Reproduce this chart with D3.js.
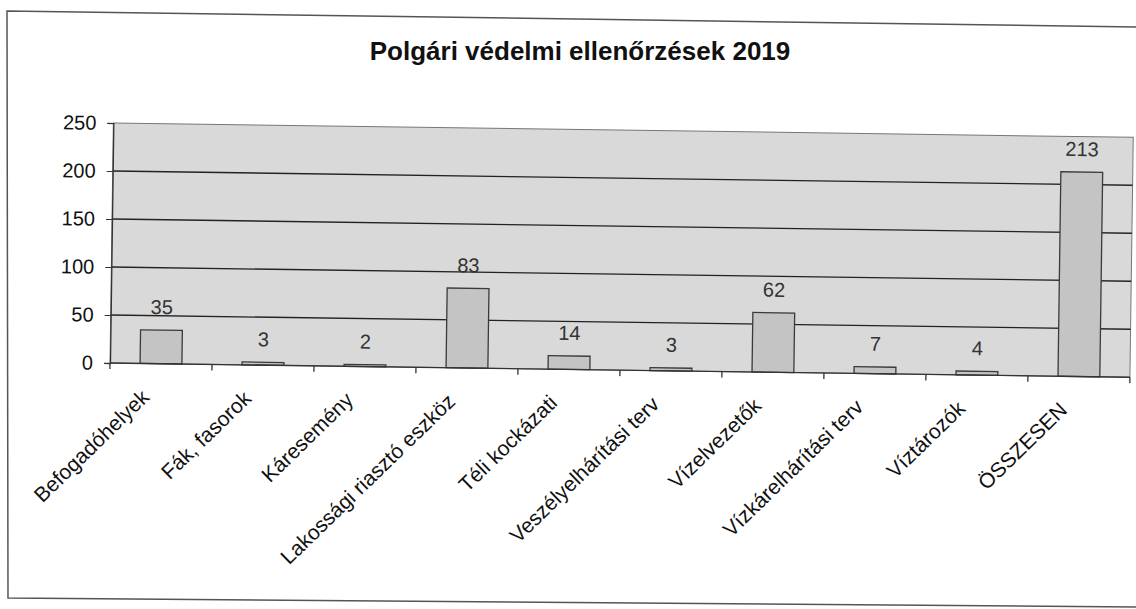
<!DOCTYPE html>
<html>
<head>
<meta charset="utf-8">
<script src="https://cdn.jsdelivr.net/npm/d3@7"></script>
<style>
  body { margin: 0; background: #fff; }
  text { font-family: "Liberation Sans", Arial, sans-serif; }
</style>
</head>
<body>
<div id="chart"></div>
<script>
// data
var categories = ["Befogadóhelyek", "Fák, fasorok", "Káresemény", "Lakossági riasztó eszköz",
  "Téli kockázati", "Veszélyelhárítási terv", "Vízelvezetők", "Vízkárelhárítási terv",
  "Víztározók", "ÖSSZESEN"];
var values = [35, 3, 2, 83, 14, 3, 62, 7, 4, 213];
var yTicks = [0, 50, 100, 150, 200, 250];
var title = "Polgári védelmi ellenőrzések 2019";

var W = 1136, H = 609;
var plotL = 110, plotR = 1130, plotT = 123, plotB = 363;

var svg = d3.select("#chart")
  .append("svg")
    .attr("width", W)
    .attr("height", H);

// page frame (scan is a bit skewed)
svg.append("path")
  .attr("d", "M1140,27 L7,11 L8,598 L1140,607")
  .attr("fill", "none")
  .attr("stroke", "#555")
  .attr("stroke-width", 1.5);

// the scan is tilted slightly clockwise
var g = svg.append("g")
  .attr("transform", "rotate(0.8," + plotL + "," + plotB + ")");

var x = d3.scaleBand()
  .domain(categories)
  .range([plotL, plotR])
  .paddingInner(0.59)
  .paddingOuter(0.295);

var y = d3.scaleLinear()
  .domain([0, 250])
  .range([plotB, plotT]);

// plot area
g.append("rect")
  .attr("x", plotL)
  .attr("y", plotT)
  .attr("width", plotR - plotL)
  .attr("height", plotB - plotT)
  .attr("fill", "#d9d9d9")
  .attr("stroke", "#777")
  .attr("stroke-width", 1);

// gridlines
g.selectAll(".grid")
  .data(yTicks.filter(function(d) { return d > 0 && d < 250; }))
  .enter().append("line")
    .attr("x1", plotL)
    .attr("x2", plotR)
    .attr("y1", function(d) { return y(d); })
    .attr("y2", function(d) { return y(d); })
    .attr("stroke", "#222")
    .attr("stroke-width", 1.3);

// y axis
var yAxis = g.append("g")
  .attr("transform", "translate(" + plotL + ",0)")
  .call(d3.axisLeft(y).tickValues(yTicks).tickSize(6).tickPadding(11));
yAxis.select(".domain").attr("stroke", "#333").attr("stroke-width", 1.3);
yAxis.selectAll(".tick line").attr("stroke", "#333");
yAxis.selectAll("text")
  .attr("font-size", 20)
  .attr("fill", "#111")
  .style("font-family", "Liberation Sans, Arial, sans-serif");

// bars
g.selectAll(".bar")
  .data(values)
  .enter().append("rect")
    .attr("x", function(d, i) { return x(categories[i]); })
    .attr("y", function(d) { return y(d); })
    .attr("width", x.bandwidth())
    .attr("height", function(d) { return y(0) - y(d); })
    .attr("fill", "#c4c4c4")
    .attr("stroke", "#3a3a3a")
    .attr("stroke-width", 1.3);

// value labels
g.selectAll(".val")
  .data(values)
  .enter().append("text")
    .attr("x", function(d, i) { return x(categories[i]) + x.bandwidth() / 2; })
    .attr("y", function(d) { return y(d) - 16; })
    .attr("text-anchor", "middle")
    .attr("font-size", 20)
    .attr("fill", "#333")
    .text(function(d) { return d; });

// x axis line and ticks at category boundaries
g.append("line")
  .attr("x1", plotL)
  .attr("x2", plotR)
  .attr("y1", y(0))
  .attr("y2", y(0))
  .attr("stroke", "#333")
  .attr("stroke-width", 1.3);

var step = x.step();
g.selectAll(".xtick")
  .data(d3.range(categories.length + 1))
  .enter().append("line")
    .attr("x1", function(i) { return plotL + i * step; })
    .attr("x2", function(i) { return plotL + i * step; })
    .attr("y1", y(0))
    .attr("y2", y(0) + 6)
    .attr("stroke", "#333")
    .attr("stroke-width", 1.3);

// category labels, rotated 45 degrees
g.selectAll(".cat")
  .data(categories)
  .enter().append("text")
    .attr("transform", function(d) {
      var cx = x(d) + x.bandwidth() / 2;
      return "translate(" + (cx - 10) + "," + (y(0) + 35) + ") rotate(-45)";
    })
    .attr("text-anchor", "end")
    .attr("font-size", 21)
    .attr("fill", "#111")
    .text(function(d) { return d; });

// title
svg.append("text")
  .attr("x", 580)
  .attr("y", 60)
  .attr("text-anchor", "middle")
  .attr("font-size", 26)
  .attr("font-weight", "bold")
  .attr("fill", "#111")
  .text(title);
</script>
</body>
</html>
